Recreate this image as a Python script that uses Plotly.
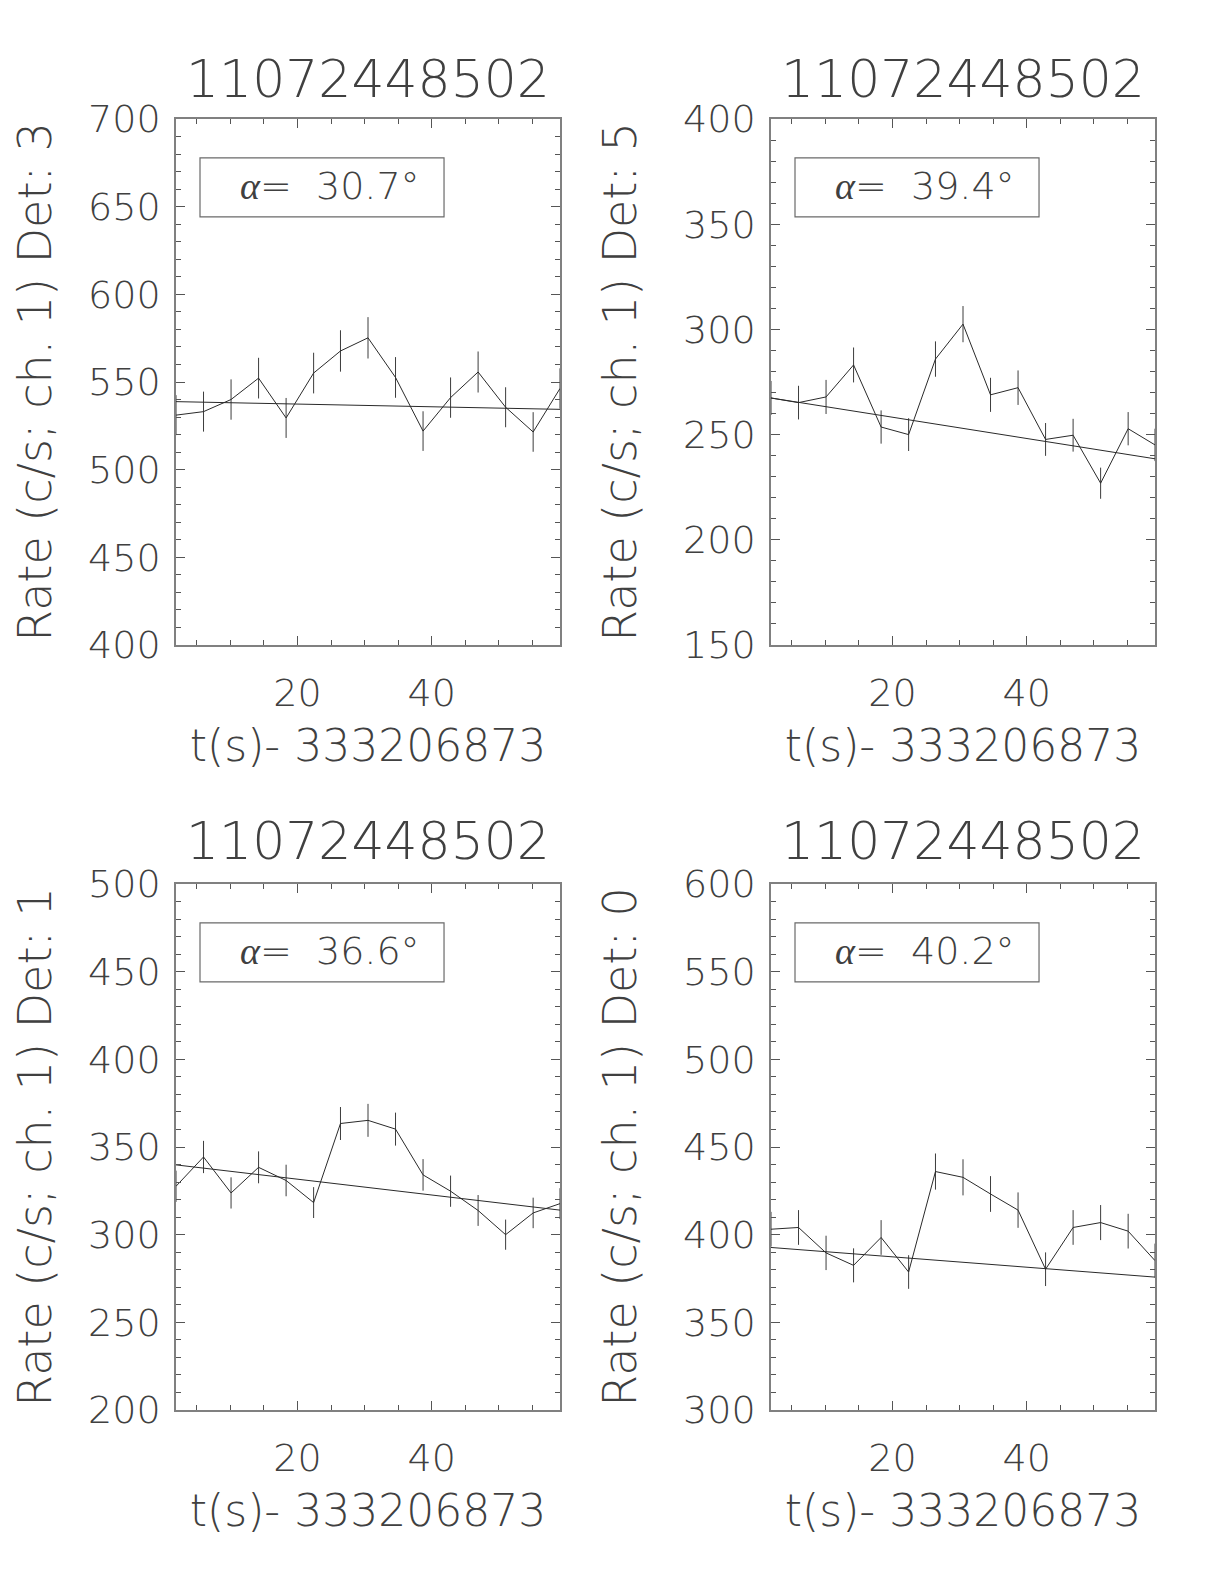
import plotly.graph_objects as go

# ---------------- data ----------------
obs_id = "11072448502"
t_offset_label = "t(s)- 333206873"

x_time = [1.9, 6.0, 10.1, 14.2, 18.3, 22.4, 26.4, 30.5, 34.6, 38.7, 42.8, 46.9, 51.0, 55.1, 59.1]

det_names = ["3", "5", "1", "0"]
alpha_vals = ["30.7", "39.4", "36.6", "40.2"]

rate_det3 = [531.1, 533.1, 540.0, 552.2, 529.5, 555.1, 567.7, 575.2, 552.6, 522.0, 541.1, 555.7, 535.6, 521.5, 546.3]
err_det3 = [11.4, 11.4, 11.5, 11.6, 11.4, 11.6, 11.8, 11.8, 11.6, 11.3, 11.5, 11.7, 11.4, 11.3, 11.5]
fit_det3 = [538.8, 534.4]

rate_det5 = [267.4, 265.2, 267.9, 283.1, 253.6, 250.0, 285.9, 302.5, 268.9, 272.3, 247.7, 249.7, 226.9, 252.8, 245.1]
err_det5 = [8.1, 8.0, 8.1, 8.3, 7.9, 7.8, 8.4, 8.6, 8.1, 8.2, 7.8, 7.8, 7.4, 7.9, 7.7]
fit_det5 = [267.4, 238.5]

rate_det1 = [327.6, 344.3, 323.8, 338.4, 330.9, 318.3, 363.4, 365.2, 360.2, 334.1, 324.8, 313.8, 300.0, 312.4, 317.7]
err_det1 = [8.9, 9.2, 8.9, 9.1, 9.0, 8.8, 9.4, 9.4, 9.4, 9.0, 8.9, 8.8, 8.6, 8.7, 8.8]
fit_det1 = [339.8, 314.0]

rate_det0 = [403.1, 404.1, 389.6, 382.5, 398.4, 378.7, 436.0, 432.7, 423.2, 414.0, 380.3, 404.1, 406.9, 402.0, 385.2]
err_det0 = [9.9, 9.9, 9.8, 9.7, 9.9, 9.6, 10.3, 10.3, 10.2, 10.1, 9.6, 9.9, 10.0, 9.9, 9.7]
fit_det0 = [392.7, 375.8]

y_ranges = [[400, 700], [150, 400], [200, 500], [300, 600]]

rates = [rate_det3, rate_det5, rate_det1, rate_det0]
errs = [err_det3, err_det5, err_det1, err_det0]
fits = [fit_det3, fit_det5, fit_det1, fit_det0]

# ---------------- layout geometry (page body has an 8px margin) ----------------
W, H = 1224, 1584
col_px = [(168, 552), (763, 1147)]
row_px = [(111, 637), (876, 1402)]
title_px_y = [71, 833]

FONT = "DejaVu Sans"
TXT = "#404040"
LINE = "#2a2a2a"
AXC = "#808080"

fig = go.Figure()
layout_axes = {}
annotations = []
shapes = []

for i in range(4):
    r, c = divmod(i, 2)
    n = i + 1
    xa = "x" if n == 1 else f"x{n}"
    ya = "y" if n == 1 else f"y{n}"
    xdom = [col_px[c][0] / W, col_px[c][1] / W]
    ydom = [1 - row_px[r][1] / H, 1 - row_px[r][0] / H]

    fig.add_trace(go.Scatter(
        x=x_time, y=rates[i], mode="lines",
        line=dict(color=LINE, width=1),
        error_y=dict(type="data", array=errs[i], visible=True,
                     thickness=1, width=0, color="#3c3c3c"),
        xaxis=xa, yaxis=ya, showlegend=False, hoverinfo="skip"))
    fig.add_trace(go.Scatter(
        x=[x_time[0], x_time[-1]], y=fits[i], mode="lines",
        line=dict(color=LINE, width=1),
        xaxis=xa, yaxis=ya, showlegend=False, hoverinfo="skip"))

    common = dict(showline=True, linecolor=AXC, linewidth=1.5, mirror="ticks",
                  ticks="inside", tickcolor="#555", ticklen=9, tickwidth=1,
                  showgrid=False, zeroline=False, automargin=False,
                  tickfont=dict(family=FONT, size=38, color=TXT, weight=200))
    layout_axes["xaxis" if n == 1 else f"xaxis{n}"] = dict(
        common, domain=xdom, anchor=ya, range=[x_time[0], x_time[-1]],
        tick0=0, dtick=20, ticklabelstandoff=14,
        minor=dict(dtick=5, ticks="inside", ticklen=5, tickcolor="#555", showgrid=False),
        title=dict(text=t_offset_label, standoff=16,
                   font=dict(family=FONT, size=44, color=TXT, weight=200)))
    layout_axes["yaxis" if n == 1 else f"yaxis{n}"] = dict(
        common, domain=ydom, anchor=xa, range=y_ranges[i],
        tick0=0, dtick=50, ticklabelstandoff=6,
        minor=dict(dtick=10, ticks="inside", ticklen=5, tickcolor="#555", showgrid=False),
        title=dict(text=f"Rate (c/s; ch. 1) Det: {det_names[i]}", standoff=32,
                   font=dict(family=FONT, size=46, color=TXT, weight=200)))

    # panel title
    annotations.append(dict(
        text=obs_id, xref="paper", yref="paper",
        x=(xdom[0] + xdom[1]) / 2, y=1 - title_px_y[r] / H,
        xanchor="center", yanchor="middle", showarrow=False,
        font=dict(family=FONT, size=52, color=TXT, weight=200)))
    # alpha box
    shapes.append(dict(type="rect", xref=f"{xa} domain", yref=f"{ya} domain",
                       x0=0.0625, x1=0.698, y0=0.814, y1=0.926,
                       line=dict(color="#6a6a6a", width=1.2), fillcolor="rgba(0,0,0,0)"))
    annotations.append(dict(
        text=("<span style=\"font-family:'Liberation Serif'\"><i>\u03b1</i></span>"
              f"=\u00a0 {alpha_vals[i]}\u00b0"),
        xref=f"{xa} domain", yref=f"{ya} domain",
        x=0.40, y=0.872, xanchor="center", yanchor="middle", showarrow=False,
        font=dict(family=FONT, size=38, color=TXT, weight=200)))

fig.update_layout(
    width=W, height=H, margin=dict(l=0, r=0, t=0, b=0),
    paper_bgcolor="white", plot_bgcolor="white",
    annotations=annotations, shapes=shapes, **layout_axes)

fig.write_html("out.html")
